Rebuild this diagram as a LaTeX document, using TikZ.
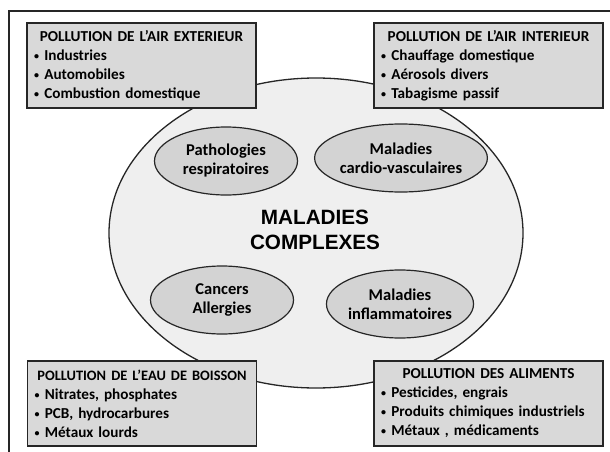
\documentclass[tikz,border=0pt]{standalone}
\usepackage{fontspec}
\setmainfont{Carlito}
\newfontfamily\arialfont{Liberation Sans}
\usetikzlibrary{shapes.geometric}

\definecolor{boxgray}{HTML}{D9D9D9}
\definecolor{ovalgray}{HTML}{D3D3D3}
\definecolor{zonegray}{HTML}{EFEFEF}
\definecolor{linegray}{HTML}{262626}

\newcommand{\puce}{\raisebox{0.15ex}{\fontsize{10}{10}\selectfont•}\hspace{0.35em}}
\newcommand{\titrebox}[1]{\makebox[\linewidth][c]{#1}\par}

\begin{document}
\begin{tikzpicture}[x=1pt,y=-1pt,
    source/.style={draw=linegray, line width=1.6pt, fill=boxgray,
      minimum width=229pt, minimum height=85pt, text width=215pt, inner sep=7pt,
      font=\fontsize{15.2}{19}\selectfont\bfseries},
    disease/.style={ellipse, draw=linegray, line width=1.2pt, fill=ovalgray,
      minimum width=143pt, minimum height=68pt, inner sep=0pt, align=center,
      font=\fontsize{16.5}{19}\selectfont\bfseries}]
    \useasboundingbox (0,0) rectangle (610,452);

    % cadre
    \coordinate (cornerBL) at (9,452);
    \coordinate (cornerTL) at (9,11);
    \coordinate (cornerTR) at (610,11);
    \draw[linegray, line width=1.5pt] (cornerBL) -- (cornerTL) -- (cornerTR);

    % zone centrale
    \node[ellipse, draw=linegray, line width=1.3pt, fill=zonegray,
      minimum width=414pt, minimum height=310pt] (zone) at (316,233) {};
    \node[align=center, font=\arialfont\fontsize{20.7}{25}\selectfont\bfseries] (titre) at (315,229.5) {MALADIES\\COMPLEXES};

    \node[disease] (resp) at (226,161) {Pathologies\\respiratoires};
    \node[disease] (cardio) at (401,158) {Maladies\\cardio-vasculaires};
    \node[disease] (cancer) at (222,300) {Cancers\\Allergies};
    \node[disease] (inflam) at (400,304) {Maladies\\inflammatoires};

    % sources de pollution
    \node[source] (airext) at (141.5,65.5) {\titrebox{POLLUTION DE L’AIR EXTERIEUR}\raggedright
      \puce Industries\\\puce Automobiles\\\puce Combustion domestique};
    \node[source] (airint) at (488.5,65.5) {\titrebox{POLLUTION DE L’AIR INTERIEUR}\raggedright
      \puce Chauffage domestique\\\puce Aérosols divers\\\puce Tabagisme passif};
    \node[source] (eau) at (142,403.5) {\titrebox{\fontsize{14.4}{19}\selectfont POLLUTION DE L’EAU DE BOISSON}\raggedright
      \puce Nitrates, phosphates\\\puce PCB, hydrocarbures\\\puce Métaux lourds};
    \node[source] (alim) at (488.5,403.5) {\titrebox{POLLUTION DES ALIMENTS}\raggedright
      \puce Pesticides, engrais\\\puce Produits chimiques industriels\\\puce Métaux , médicaments};
\end{tikzpicture}
\end{document}
